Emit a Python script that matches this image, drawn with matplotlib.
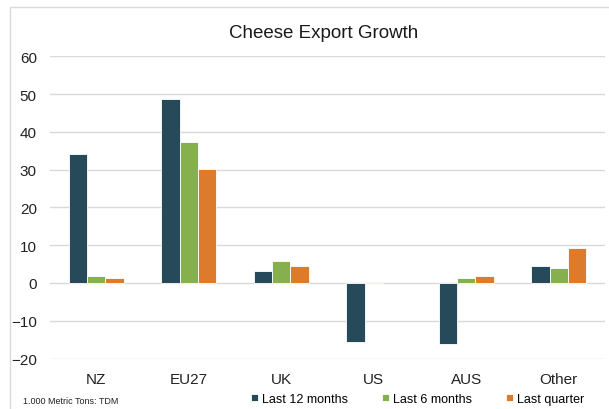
import numpy as np
import matplotlib.pyplot as plt
from matplotlib.patches import Rectangle

plt.rcParams['font.family'] = ['Liberation Sans', 'DejaVu Sans']

# Datos
regiones = ['NZ', 'EU27', 'UK', 'US', 'AUS', 'Other']
ult_12_meses = [34.2, 48.8, 3.3, -15.7, -16.2, 4.4]
ult_6_meses = [1.8, 37.3, 5.9, 0.3, 1.2, 4.0]
ult_trimestre = [1.4, 30.1, 4.4, np.nan, 1.8, 9.2]  # US sin dato
series = ['Last 12 months', 'Last 6 months', 'Last quarter']
colores = ['#264A5A', '#86B04E', '#DB7B2B']
yticks = [-20, -10, 0, 10, 20, 30, 40, 50, 60]

fig = plt.figure(figsize=(6.09, 4.10), dpi=100)
ax = fig.add_axes([50 / 609, 1 - 359.5 / 410, 555 / 609, 302.1 / 410])

x = np.arange(len(regiones))
ancho = 0.198
valores = [ult_12_meses, ult_6_meses, ult_trimestre]
for k in range(3):
    ax.bar(x + (k - 1) * ancho, valores[k], width=ancho, color=colores[k],
           edgecolor='white', linewidth=0.6, label=series[k], zorder=3)

ax.set_xlim(-0.5, len(regiones) - 0.5)
ax.set_ylim(-20, 60)
ax.set_yticks(yticks)
ax.set_xticks(x)
ax.set_xticklabels(regiones)
ax.grid(axis='y', color='#D9D9D9', linewidth=1, zorder=0)
ax.tick_params(axis='both', length=0, labelsize=11, colors='#222222')
ax.tick_params(axis='x', pad=10)
ax.tick_params(axis='y', pad=9.5)
for s in ax.spines.values():
    s.set_visible(False)

# Titulo
fig.text(324 / 609, 1 - 34 / 410, 'Cheese Export Growth', ha='center',
         va='center', fontsize=13.5, color='#1a1a1a')

# Leyenda
fig.legend(loc='center left', bbox_to_anchor=(251 / 609, 1 - 400 / 410),
           ncol=3, frameon=False, fontsize=9, handlelength=0.55,
           handleheight=0.55, handletextpad=0.35, columnspacing=2.7,
           borderpad=0, borderaxespad=0)

# Nota
fig.text(23 / 609, 1 - 402 / 410, '1.000 Metric Tons: TDM', ha='left',
         va='center', fontsize=6.5, color='#222222')

# Marco
fig.patches.append(Rectangle((10 / 609, -0.1), 1.2, 1 - 8 / 410 + 0.1,
                             transform=fig.transFigure, fill=False,
                             edgecolor='#D9D9D9', linewidth=1))

fig.savefig('out.png', dpi=100)
